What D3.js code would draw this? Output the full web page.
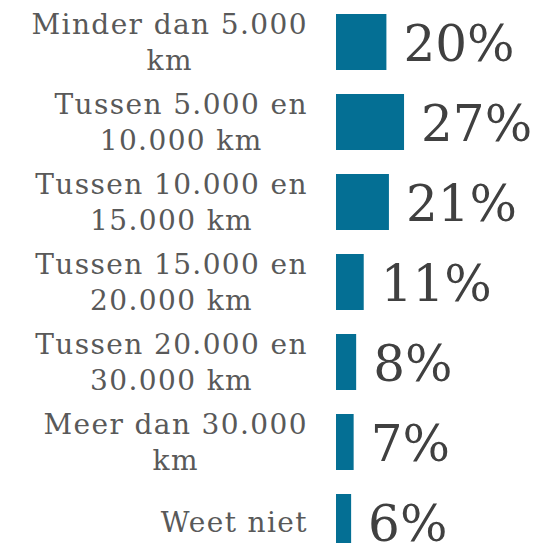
<!DOCTYPE html>
<html>
<head>
<meta charset="utf-8">
<script src="https://cdn.jsdelivr.net/npm/d3@7"></script>
<style>
  html, body { margin: 0; padding: 0; background: #fff; }
  svg { display: block; }
</style>
</head>
<body>
<div id="chart"></div>
<script>
// Categories (label lines) and values
const categories = [
  ["Minder dan 5.000", "km"],
  ["Tussen 5.000 en", "10.000 km"],
  ["Tussen 10.000 en", "15.000 km"],
  ["Tussen 15.000 en", "20.000 km"],
  ["Tussen 20.000 en", "30.000 km"],
  ["Meer dan 30.000", "km"],
  ["Weet niet"]
];
const values = [20, 27, 21, 11, 8, 7, 6];
const valueLabels = ["20%", "27%", "21%", "11%", "8%", "7%", "6%"];

const width = 558, height = 543;
const barColor = "#046f94";
const labelRight = 308;

const svg = d3.select("#chart")
  .append("svg")
  .attr("width", width)
  .attr("height", height);

const keys = categories.map(function(d) { return d.join(" "); });

const y = d3.scaleBand()
  .domain(keys)
  .range([14, 550])
  .paddingInner(0.3)
  .paddingOuter(0);

const x = d3.scaleLinear()
  .domain([0, 100])
  .range([336, 336 + 252]);

const rows = svg.selectAll("g.row")
  .data(categories.map(function(c, i) { return {key: keys[i], lines: c, value: values[i], label: valueLabels[i]}; }))
  .enter().append("g")
  .attr("class", "row");

rows.append("rect")
  .attr("x", x(0))
  .attr("y", function(d) { return y(d.key); })
  .attr("width", function(d) { return x(d.value) - x(0); })
  .attr("height", y.bandwidth())
  .attr("fill", barColor);

// value labels
rows.append("text")
  .attr("x", function(d) { return x(d.value) + 17; })
  .attr("y", function(d) { return y(d.key) + y.bandwidth() / 2 + 19; })
  .style("font-family", "'DejaVu Serif', serif")
  .style("font-size", "50px")
  .style("fill", "#404040")
  .text(function(d) { return d.label; });

// category labels, wrapped and centred as a block ending at labelRight
const lineHeight = 36;
rows.append("text")
  .attr("text-anchor", "middle")
  .style("font-family", "'DejaVu Serif', serif")
  .style("font-size", "28px")
  .style("letter-spacing", "1.4px")
  .style("fill", "#595959")
  .each(function(d) {
    const t = d3.select(this);
    const cy = y(d.key) + y.bandwidth() / 2;
    const first = cy - (d.lines.length - 1) * lineHeight / 2 + 10;
    const spans = d.lines.map(function(line, i) {
      return t.append("tspan")
        .attr("y", first + i * lineHeight)
        .text(line);
    });
    const maxW = d3.max(spans, function(s) { return s.node().getComputedTextLength(); });
    spans.forEach(function(s) { s.attr("x", labelRight - maxW / 2); });
  });
</script>
</body>
</html>
